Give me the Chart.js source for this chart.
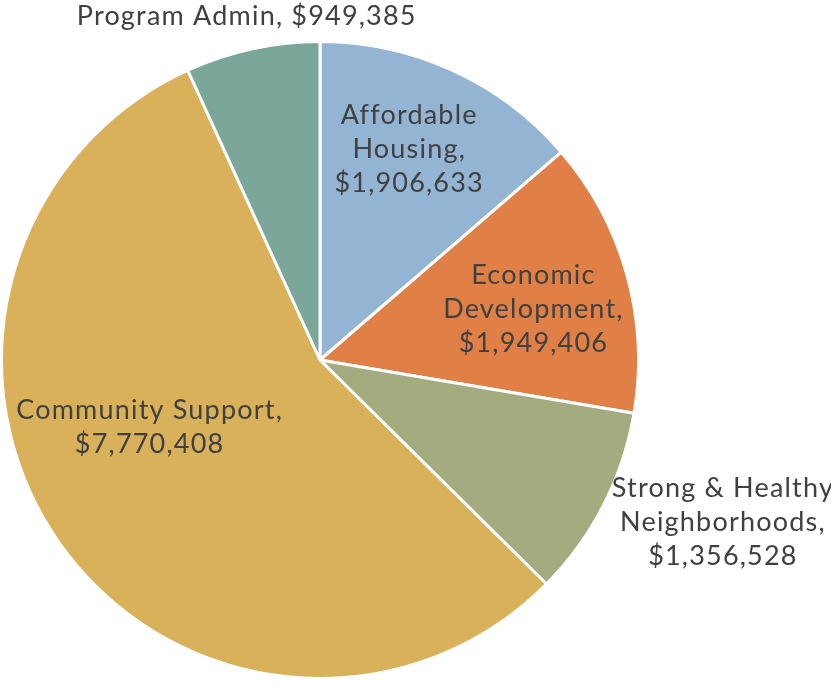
<!DOCTYPE html>
<html>
<head>
<meta charset="utf-8">
<script src="https://cdn.jsdelivr.net/npm/chart.js@4"></script>
<style>
  html, body { margin: 0; padding: 0; background: #fff; }
  #wrap { width: 831px; height: 683px; }
</style>
</head>
<body>
<div id="wrap"><canvas id="myChart"></canvas></div>
<script>
// data
const categories = ["Affordable Housing", "Economic Development", "Strong & Healthy Neighborhoods", "Community Support", "Program Admin"];
const amounts = [1906633, 1949406, 1356528, 7770408, 949385];
const labelLines = [
  ["Affordable", "Housing,", "$1,906,633"],
  ["Economic", "Development,", "$1,949,406"],
  ["Strong & Healthy", "Neighborhoods,", "$1,356,528"],
  ["Community Support,", "$7,770,408"],
  ["Program Admin, $949,385"]
];
const colors = ["#93B4D3", "#E08046", "#A4AB7E", "#D9B15B", "#7BA69A"];

// label centre offsets from the pie centre, in units of the radius
const labelPos = [
  [0.28, -0.66],
  [0.67, -0.16],
  [1.265, 0.51],
  [-0.535, 0.21],
  [-0.23, -1.08]
];

const sliceLabels = {
  id: "sliceLabels",
  afterDraw(chart) {
    const ctx = chart.ctx;
    const arc = chart.getDatasetMeta(0).data[0];
    const cx = arc.x, cy = arc.y, r = arc.outerRadius;
    ctx.save();
    ctx.fillStyle = "#404040";
    ctx.font = "27px Lato";
    ctx.letterSpacing = "1.2px";
    ctx.textAlign = "center";
    ctx.textBaseline = "middle";
    labelLines.forEach(function (lines, i) {
      const x = cx + labelPos[i][0] * r;
      const y = cy + labelPos[i][1] * r;
      const lh = 34;
      const y0 = y - (lines.length - 1) * lh / 2;
      lines.forEach(function (t, j) {
        ctx.fillText(t, x, y0 + j * lh);
      });
    });
    ctx.restore();
  }
};

const ctx = document.getElementById("myChart").getContext("2d");
const myChart = new Chart(ctx, {
  type: "pie",
  data: {
    labels: categories,
    datasets: [
      {
        data: amounts,
        backgroundColor: colors,
        borderColor: "#ffffff",
        borderWidth: 3,
      },
    ],
  },
  options: {
    responsive: true,
    maintainAspectRatio: false,
    animation: false,
    layout: { padding: { left: 0, right: 191, top: 40, bottom: 3 } },
    plugins: {
      legend: { display: false },
      tooltip: { enabled: false },
    },
  },
  plugins: [sliceLabels],
});
</script>
</body>
</html>
